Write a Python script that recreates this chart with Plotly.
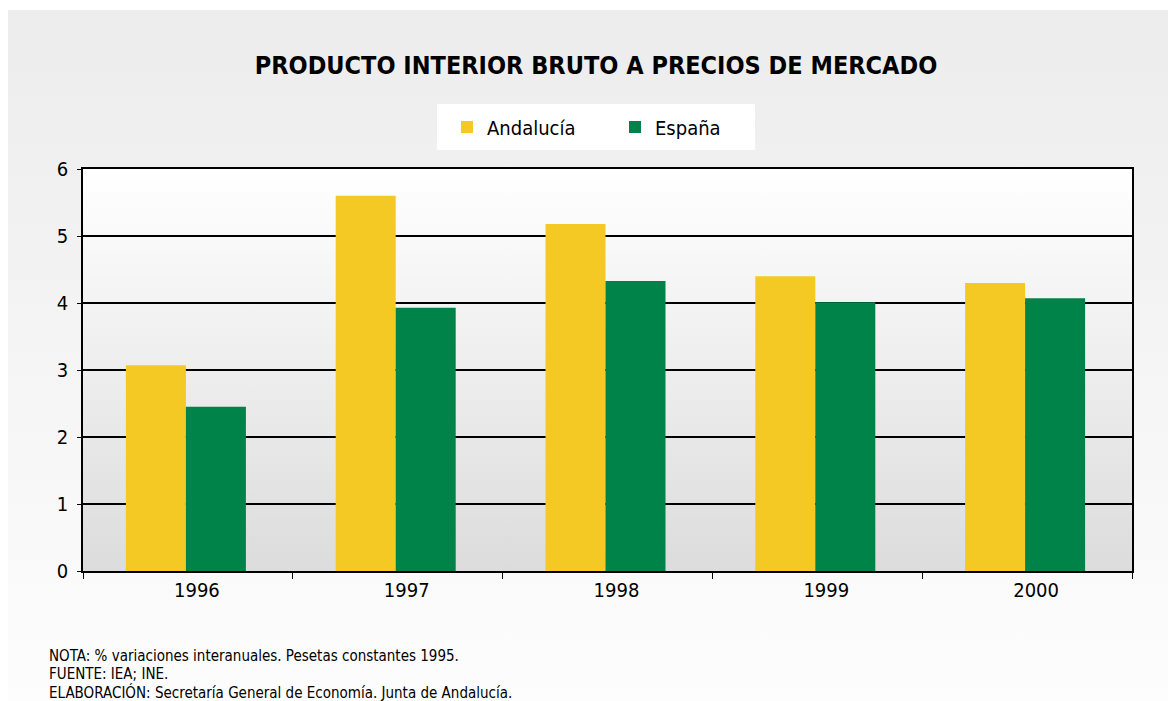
import base64
import plotly.graph_objects as go

years = ["1996", "1997", "1998", "1999", "2000"]
andalucia = [3.07, 5.60, 5.18, 4.40, 4.30]
espana = [2.45, 3.93, 4.33, 4.01, 4.07]

title = "PRODUCTO INTERIOR BRUTO A PRECIOS DE MERCADO"
notes = ["NOTA: % variaciones interanuales. Pesetas constantes 1995.",
         "FUENTE: IEA; INE.",
         "ELABORACIÓN: Secretaría General de Economía. Junta de Andalucía."]

FONT = "DejaVu Sans Condensed, Liberation Sans Narrow, sans-serif"

# body margin is removed below, so layout coordinates are page pixels
W, H = 1168, 701
L, R, T, B = 83, 36, 169, 130


def grad(c0, c1):
    svg = ('<svg xmlns="http://www.w3.org/2000/svg" width="100" height="100" preserveAspectRatio="none">'
           '<defs><linearGradient id="g" x1="0" y1="0" x2="0" y2="1">'
           f'<stop offset="0" stop-color="{c0}"/><stop offset="1" stop-color="{c1}"/>'
           '</linearGradient></defs><rect width="100" height="100" fill="url(#g)"/></svg>')
    return "data:image/svg+xml;base64," + base64.b64encode(svg.encode()).decode()


pw = W - L - R
ph = H - T - B


def px(x):
    return (x - L) / pw


def py(y):
    return (H - B - y) / ph


bar_w = 60 / (pw / 5)
off0 = -(62 / (pw / 5))

fig = go.Figure()
fig.add_trace(go.Bar(x=years, y=andalucia, name="Andalucía", marker_color="#F5C923",
                     marker_line_width=0, width=bar_w, offset=off0))
fig.add_trace(go.Bar(x=years, y=espana, name="España", marker_color="#008348",
                     marker_line_width=0, width=bar_w, offset=off0 + bar_w))

fig.update_layout(
    width=W, height=H,
    margin=dict(l=L, r=R, t=T, b=B, pad=0),
    paper_bgcolor="#f2f2f2",
    plot_bgcolor="rgba(0,0,0,0)",
    barmode="overlay",
    font=dict(family=FONT, color="black", size=20),
    title=dict(text="<b>" + title + "</b>", x=px(596), xanchor="center", xref="paper",
               y=1 - 65 / H, yanchor="middle", font=dict(family=FONT, size=25, color="black")),
    showlegend=True,
    legend=dict(orientation="h", x=px(447), xanchor="left", y=py(127), yanchor="middle",
                bgcolor="rgba(0,0,0,0)", font=dict(family=FONT, size=20, color="black"),
                entrywidth=123, itemwidth=30, borderwidth=0),
    xaxis=dict(type="category", showline=True, linecolor="black", linewidth=1.5, mirror=True,
               ticks="outside", tickson="boundaries", ticklen=6, tickcolor="black",
               tickfont=dict(family=FONT, size=20), showgrid=False, ticklabelshift=9),
    yaxis=dict(range=[0, 6], dtick=1, showline=True, linecolor="black", linewidth=1.5,
               mirror=True, ticks="outside", ticklen=4, tickcolor="black",
               showgrid=True, gridcolor="black", gridwidth=1.5, ticklabelstandoff=5,
               tickfont=dict(family=FONT, size=20), zeroline=False),
    images=[
        dict(source=grad("#ececec", "#fdfdfd"), xref="paper", yref="paper", x=px(0), y=py(0),
             sizex=W / pw, sizey=H / ph, sizing="stretch", layer="below",
             xanchor="left", yanchor="top"),
        dict(source=grad("#ffffff", "#dcdcdc"), xref="paper", yref="paper", x=0, y=1,
             sizex=1, sizey=1, sizing="stretch", layer="below",
             xanchor="left", yanchor="top"),
    ],
    shapes=[
        dict(type="rect", xref="paper", yref="paper", x0=px(0), x1=px(W), y0=py(0), y1=py(10),
             fillcolor="white", line_width=0, layer="below"),
        dict(type="rect", xref="paper", yref="paper", x0=px(0), x1=px(8), y0=py(0), y1=py(H),
             fillcolor="white", line_width=0, layer="below"),
        dict(type="rect", xref="paper", yref="paper", x0=px(437), x1=px(755), y0=py(104),
             y1=py(150), fillcolor="white", line_width=0, layer="below"),
    ],
)

for i, t in enumerate(notes):
    fig.add_annotation(text=t, xref="paper", yref="paper", x=px(47), y=py(656 + 18 * i),
                       xanchor="left", yanchor="middle", showarrow=False,
                       font=dict(family=FONT, size=15, color="black"))

fig.write_html("out.html",
               config={"displayModeBar": False},
               post_script="document.body.style.margin='0';"
                           "document.documentElement.style.overflow='hidden';"
                           "document.body.style.overflow='hidden';")
